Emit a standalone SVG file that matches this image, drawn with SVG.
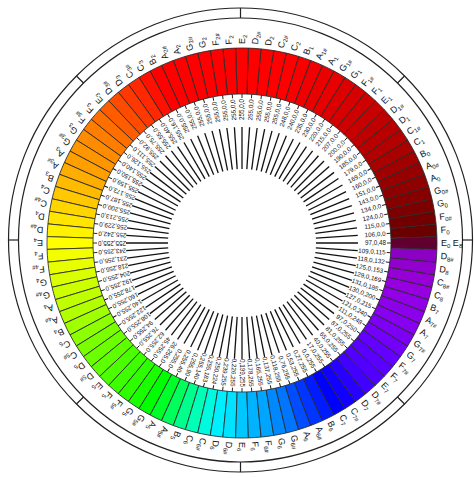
<svg xmlns="http://www.w3.org/2000/svg" xmlns:xlink="http://www.w3.org/1999/xlink" width="474" height="478" viewBox="0 0 474 478">
<style>
.w{stroke:#2a2a2a;stroke-width:0.8}
.sp{stroke:#111;stroke-width:1.3}
.dl{stroke:#111;stroke-width:0.9}
.v{font-family:"Liberation Sans",Arial,sans-serif;font-size:6.3px;text-anchor:end;fill:#111}
.n{font-family:"Liberation Sans",Arial,sans-serif;font-size:9px;fill:#111}
.s{font-size:6px}
.ring{fill:none;stroke:#222;stroke-width:1.2}
</style>
<defs>
<path id="w" class="w" d="M390.92,238.125 L436.896,236.62 A195,195 0 0 1 436.896,249.38 L390.92,247.875 A149,149 0 0 0 390.92,238.125Z"/>
<g id="t"><line class="sp" x1="316" y1="243" x2="358" y2="243"/><line class="dl" x1="387" y1="243" x2="391" y2="243"/></g>
<line id="tk" class="ring" x1="240.5" y1="8" x2="240.5" y2="18"/>
</defs>
<rect width="474" height="478" fill="#fff"/>
<g id="frame">
<circle class="ring" cx="240.5" cy="240" r="232"/>
<circle class="ring" cx="240.5" cy="240" r="222"/>
<use href="#tk"/>
<use href="#tk" transform="rotate(45 240.5 240)"/>
<use href="#tk" transform="rotate(90 240.5 240)"/>
<use href="#tk" transform="rotate(135 240.5 240)"/>
<use href="#tk" transform="rotate(180 240.5 240)"/>
<use href="#tk" transform="rotate(225 240.5 240)"/>
<use href="#tk" transform="rotate(270 240.5 240)"/>
<use href="#tk" transform="rotate(315 240.5 240)"/>
</g>
<g id="wheel">
<g transform="rotate(0 242 243)"><use href="#w" fill="rgb(97,0,48)"/><use href="#t"/><text class="v" x="386" y="245.2">97,0,48</text><text class="n" x="441" y="246">E<tspan class="s" dy="2">0</tspan><tspan dy="-2"> E</tspan><tspan class="s" dy="2">8</tspan></text></g>
<g transform="rotate(-3.75 242 243)"><use href="#w" fill="rgb(106,0,0)"/><use href="#t"/><text class="v" x="386" y="245.2">106,0,0</text><text class="n" x="441" y="246">F<tspan class="s" dy="2">0</tspan></text></g>
<g transform="rotate(-7.5 242 243)"><use href="#w" fill="rgb(115,0,0)"/><use href="#t"/><text class="v" x="386" y="245.2">115,0,0</text><text class="n" x="441" y="246">F<tspan class="s" dy="2">0#</tspan></text></g>
<g transform="rotate(-11.25 242 243)"><use href="#w" fill="rgb(124,0,0)"/><use href="#t"/><text class="v" x="386" y="245.2">124,0,0</text><text class="n" x="441" y="246">G<tspan class="s" dy="2">0</tspan></text></g>
<g transform="rotate(-15 242 243)"><use href="#w" fill="rgb(134,0,0)"/><use href="#t"/><text class="v" x="386" y="245.2">134,0,0</text><text class="n" x="441" y="246">G<tspan class="s" dy="2">0#</tspan></text></g>
<g transform="rotate(-18.75 242 243)"><use href="#w" fill="rgb(143,0,0)"/><use href="#t"/><text class="v" x="386" y="245.2">143,0,0</text><text class="n" x="441" y="246">A<tspan class="s" dy="2">0</tspan></text></g>
<g transform="rotate(-22.5 242 243)"><use href="#w" fill="rgb(151,0,0)"/><use href="#t"/><text class="v" x="386" y="245.2">151,0,0</text><text class="n" x="441" y="246">A<tspan class="s" dy="2">0#</tspan></text></g>
<g transform="rotate(-26.25 242 243)"><use href="#w" fill="rgb(160,0,0)"/><use href="#t"/><text class="v" x="386" y="245.2">160,0,0</text><text class="n" x="441" y="246">B<tspan class="s" dy="2">0</tspan></text></g>
<g transform="rotate(-30 242 243)"><use href="#w" fill="rgb(169,0,0)"/><use href="#t"/><text class="v" x="386" y="245.2">169,0,0</text><text class="n" x="441" y="246">C<tspan class="s" dy="2">1</tspan></text></g>
<g transform="rotate(-33.75 242 243)"><use href="#w" fill="rgb(179,0,0)"/><use href="#t"/><text class="v" x="386" y="245.2">179,0,0</text><text class="n" x="441" y="246">C<tspan class="s" dy="2">1#</tspan></text></g>
<g transform="rotate(-37.5 242 243)"><use href="#w" fill="rgb(185,0,0)"/><use href="#t"/><text class="v" x="386" y="245.2">185,0,0</text><text class="n" x="441" y="246">D<tspan class="s" dy="2">1</tspan></text></g>
<g transform="rotate(-41.25 242 243)"><use href="#w" fill="rgb(190,0,0)"/><use href="#t"/><text class="v" x="386" y="245.2">190,0,0</text><text class="n" x="441" y="246">D<tspan class="s" dy="2">1#</tspan></text></g>
<g transform="rotate(-45 242 243)"><use href="#w" fill="rgb(200,0,0)"/><use href="#t"/><text class="v" x="386" y="245.2">200,0,0</text><text class="n" x="441" y="246">E<tspan class="s" dy="2">1</tspan></text></g>
<g transform="rotate(-48.75 242 243)"><use href="#w" fill="rgb(207,0,0)"/><use href="#t"/><text class="v" x="386" y="245.2">207,0,0</text><text class="n" x="441" y="246">F<tspan class="s" dy="2">1</tspan></text></g>
<g transform="rotate(-52.5 242 243)"><use href="#w" fill="rgb(215,0,0)"/><use href="#t"/><text class="v" x="386" y="245.2">215,0,0</text><text class="n" x="441" y="246">F<tspan class="s" dy="2">1#</tspan></text></g>
<g transform="rotate(-56.25 242 243)"><use href="#w" fill="rgb(220,0,0)"/><use href="#t"/><text class="v" x="386" y="245.2">220,0,0</text><text class="n" x="441" y="246">G<tspan class="s" dy="2">1</tspan></text></g>
<g transform="rotate(-60 242 243)"><use href="#w" fill="rgb(230,0,0)"/><use href="#t"/><text class="v" x="386" y="245.2">230,0,0</text><text class="n" x="441" y="246">G<tspan class="s" dy="2">1#</tspan></text></g>
<g transform="rotate(-63.75 242 243)"><use href="#w" fill="rgb(235,0,0)"/><use href="#t"/><text class="v" x="386" y="245.2">235,0,0</text><text class="n" x="441" y="246">A<tspan class="s" dy="2">1</tspan></text></g>
<g transform="rotate(-67.5 242 243)"><use href="#w" fill="rgb(240,0,0)"/><use href="#t"/><text class="v" x="386" y="245.2">240,0,0</text><text class="n" x="441" y="246">A<tspan class="s" dy="2">1#</tspan></text></g>
<g transform="rotate(-71.25 242 243)"><use href="#w" fill="rgb(248,0,0)"/><use href="#t"/><text class="v" x="386" y="245.2">248,0,0</text><text class="n" x="441" y="246">B<tspan class="s" dy="2">1</tspan></text></g>
<g transform="rotate(-75 242 243)"><use href="#w" fill="rgb(255,0,0)"/><use href="#t"/><text class="v" x="386" y="245.2">255,0,0</text><text class="n" x="441" y="246">C<tspan class="s" dy="2">2</tspan></text></g>
<g transform="rotate(-78.75 242 243)"><use href="#w" fill="rgb(255,0,0)"/><use href="#t"/><text class="v" x="386" y="245.2">255,0,0</text><text class="n" x="441" y="246">C<tspan class="s" dy="2">2#</tspan></text></g>
<g transform="rotate(-82.5 242 243)"><use href="#w" fill="rgb(255,0,0)"/><use href="#t"/><text class="v" x="386" y="245.2">255,0,0</text><text class="n" x="441" y="246">D<tspan class="s" dy="2">2</tspan></text></g>
<g transform="rotate(-86.25 242 243)"><use href="#w" fill="rgb(255,0,0)"/><use href="#t"/><text class="v" x="386" y="245.2">255,0,0</text><text class="n" x="441" y="246">D<tspan class="s" dy="2">2#</tspan></text></g>
<g transform="rotate(-90 242 243)"><use href="#w" fill="rgb(255,0,0)"/><use href="#t"/><text class="v" x="386" y="245.2">255,0,0</text><text class="n" x="441" y="246">E<tspan class="s" dy="2">2</tspan></text></g>
<g transform="rotate(-93.75 242 243)"><use href="#w" fill="rgb(255,0,0)"/><use href="#t"/><text class="v" x="386" y="245.2">255,0,0</text><text class="n" x="441" y="246">F<tspan class="s" dy="2">2</tspan></text></g>
<g transform="rotate(-97.5 242 243)"><use href="#w" fill="rgb(255,0,0)"/><use href="#t"/><text class="v" x="386" y="245.2">255,0,0</text><text class="n" x="441" y="246">F<tspan class="s" dy="2">2#</tspan></text></g>
<g transform="rotate(-101.25 242 243)"><use href="#w" fill="rgb(255,0,0)"/><use href="#t"/><text class="v" x="386" y="245.2">255,0,0</text><text class="n" x="441" y="246">G<tspan class="s" dy="2">2</tspan></text></g>
<g transform="rotate(-105 242 243)"><use href="#w" fill="rgb(255,0,0)"/><use href="#t"/><text class="v" x="386" y="245.2">255,0,0</text><text class="n" x="441" y="246">G<tspan class="s" dy="2">2#</tspan></text></g>
<g transform="rotate(-108.75 242 243)"><use href="#w" fill="rgb(255,0,0)"/><use href="#t"/><text class="v" x="386" y="245.2">255,0,0</text><text class="n" x="441" y="246">A<tspan class="s" dy="2">2</tspan></text></g>
<g transform="rotate(-112.5 242 243)"><use href="#w" fill="rgb(255,0,0)"/><use href="#t"/><text class="v" x="386" y="245.2">255,0,0</text><text class="n" x="441" y="246">A<tspan class="s" dy="2">2#</tspan></text></g>
<g transform="rotate(-116.25 242 243)"><use href="#w" fill="rgb(255,0,0)"/><use href="#t"/><text class="v" x="386" y="245.2">255,0,0</text><text class="n" x="441" y="246">B<tspan class="s" dy="2">2</tspan></text></g>
<g transform="rotate(-120 242 243)"><use href="#w" fill="rgb(255,16,0)"/><use href="#t"/><text class="v" x="386" y="245.2">255,16,0</text><text class="n" x="441" y="246">C<tspan class="s" dy="2">3</tspan></text></g>
<g transform="rotate(-123.75 242 243)"><use href="#w" fill="rgb(255,40,0)"/><use href="#t"/><text class="v" x="386" y="245.2">255,40,0</text><text class="n" x="441" y="246">C<tspan class="s" dy="2">3#</tspan></text></g>
<g transform="rotate(-127.5 242 243)"><use href="#w" fill="rgb(255,55,0)"/><use href="#t"/><text class="v" x="386" y="245.2">255,55,0</text><text class="n" x="441" y="246">D<tspan class="s" dy="2">3</tspan></text></g>
<g transform="rotate(-131.25 242 243)"><use href="#w" fill="rgb(255,75,0)"/><use href="#t"/><text class="v" x="386" y="245.2">255,75,0</text><text class="n" x="441" y="246">D<tspan class="s" dy="2">3#</tspan></text></g>
<g transform="rotate(-135 242 243)"><use href="#w" fill="rgb(255,92,0)"/><use href="#t"/><text class="v" x="386" y="245.2">255,92,0</text><text class="n" x="441" y="246">E<tspan class="s" dy="2">3</tspan></text></g>
<g transform="rotate(-138.75 242 243)"><use href="#w" fill="rgb(255,111,0)"/><use href="#t"/><text class="v" x="386" y="245.2">255,111,0</text><text class="n" x="441" y="246">F<tspan class="s" dy="2">3</tspan></text></g>
<g transform="rotate(-142.5 242 243)"><use href="#w" fill="rgb(255,126,0)"/><use href="#t"/><text class="v" x="386" y="245.2">255,126,0</text><text class="n" x="441" y="246">F<tspan class="s" dy="2">3#</tspan></text></g>
<g transform="rotate(-146.25 242 243)"><use href="#w" fill="rgb(255,140,0)"/><use href="#t"/><text class="v" x="386" y="245.2">255,140,0</text><text class="n" x="441" y="246">G<tspan class="s" dy="2">3</tspan></text></g>
<g transform="rotate(-150 242 243)"><use href="#w" fill="rgb(255,150,0)"/><use href="#t"/><text class="v" x="386" y="245.2">255,150,0</text><text class="n" x="441" y="246">G<tspan class="s" dy="2">3#</tspan></text></g>
<g transform="rotate(-153.75 242 243)"><use href="#w" fill="rgb(255,159,0)"/><use href="#t"/><text class="v" x="386" y="245.2">255,159,0</text><text class="n" x="441" y="246">A<tspan class="s" dy="2">3</tspan></text></g>
<g transform="rotate(-157.5 242 243)"><use href="#w" fill="rgb(255,173,0)"/><use href="#t"/><text class="v" x="386" y="245.2">255,173,0</text><text class="n" x="441" y="246">A<tspan class="s" dy="2">3#</tspan></text></g>
<g transform="rotate(-161.25 242 243)"><use href="#w" fill="rgb(255,187,0)"/><use href="#t"/><text class="v" x="386" y="245.2">255,187,0</text><text class="n" x="441" y="246">B<tspan class="s" dy="2">3</tspan></text></g>
<g transform="rotate(-165 242 243)"><use href="#w" fill="rgb(255,200,0)"/><use href="#t"/><text class="v" x="386" y="245.2">255,200,0</text><text class="n" x="441" y="246">C<tspan class="s" dy="2">4</tspan></text></g>
<g transform="rotate(-168.75 242 243)"><use href="#w" fill="rgb(255,213,0)"/><use href="#t"/><text class="v" x="386" y="245.2">255,213,0</text><text class="n" x="441" y="246">C<tspan class="s" dy="2">4#</tspan></text></g>
<g transform="rotate(-172.5 242 243)"><use href="#w" fill="rgb(255,229,0)"/><use href="#t"/><text class="v" x="386" y="245.2">255,229,0</text><text class="n" x="441" y="246">D<tspan class="s" dy="2">4</tspan></text></g>
<g transform="rotate(-176.25 242 243)"><use href="#w" fill="rgb(255,242,0)"/><use href="#t"/><text class="v" x="386" y="245.2">255,242,0</text><text class="n" x="441" y="246">D<tspan class="s" dy="2">4#</tspan></text></g>
<g transform="rotate(-180 242 243)"><use href="#w" fill="rgb(255,255,0)"/><use href="#t"/><text class="v" x="386" y="245.2">255,255,0</text><text class="n" x="441" y="246">E<tspan class="s" dy="2">4</tspan></text></g>
<g transform="rotate(-183.75 242 243)"><use href="#w" fill="rgb(243,255,0)"/><use href="#t"/><text class="v" x="386" y="245.2">243,255,0</text><text class="n" x="441" y="246">F<tspan class="s" dy="2">4</tspan></text></g>
<g transform="rotate(-187.5 242 243)"><use href="#w" fill="rgb(231,255,0)"/><use href="#t"/><text class="v" x="386" y="245.2">231,255,0</text><text class="n" x="441" y="246">F<tspan class="s" dy="2">4#</tspan></text></g>
<g transform="rotate(-191.25 242 243)"><use href="#w" fill="rgb(218,255,0)"/><use href="#t"/><text class="v" x="386" y="245.2">218,255,0</text><text class="n" x="441" y="246">G<tspan class="s" dy="2">4</tspan></text></g>
<g transform="rotate(-195 242 243)"><use href="#w" fill="rgb(204,255,0)"/><use href="#t"/><text class="v" x="386" y="245.2">204,255,0</text><text class="n" x="441" y="246">G<tspan class="s" dy="2">4#</tspan></text></g>
<g transform="rotate(-198.75 242 243)"><use href="#w" fill="rgb(192,255,0)"/><use href="#t"/><text class="v" x="386" y="245.2">192,255,0</text><text class="n" x="441" y="246">A<tspan class="s" dy="2">4</tspan></text></g>
<g transform="rotate(-202.5 242 243)"><use href="#w" fill="rgb(178,255,0)"/><use href="#t"/><text class="v" x="386" y="245.2">178,255,0</text><text class="n" x="441" y="246">A<tspan class="s" dy="2">4#</tspan></text></g>
<g transform="rotate(-206.25 242 243)"><use href="#w" fill="rgb(160,255,0)"/><use href="#t"/><text class="v" x="386" y="245.2">160,255,0</text><text class="n" x="441" y="246">B<tspan class="s" dy="2">4</tspan></text></g>
<g transform="rotate(-210 242 243)"><use href="#w" fill="rgb(140,255,0)"/><use href="#t"/><text class="v" x="386" y="245.2">140,255,0</text><text class="n" x="441" y="246">C<tspan class="s" dy="2">5</tspan></text></g>
<g transform="rotate(-213.75 242 243)"><use href="#w" fill="rgb(122,255,0)"/><use href="#t"/><text class="v" x="386" y="245.2">122,255,0</text><text class="n" x="441" y="246">C<tspan class="s" dy="2">5#</tspan></text></g>
<g transform="rotate(-217.5 242 243)"><use href="#w" fill="rgb(108,255,0)"/><use href="#t"/><text class="v" x="386" y="245.2">108,255,0</text><text class="n" x="441" y="246">D<tspan class="s" dy="2">5</tspan></text></g>
<g transform="rotate(-221.25 242 243)"><use href="#w" fill="rgb(94,255,0)"/><use href="#t"/><text class="v" x="386" y="245.2">94,255,0</text><text class="n" x="441" y="246">D<tspan class="s" dy="2">5#</tspan></text></g>
<g transform="rotate(-225 242 243)"><use href="#w" fill="rgb(76,255,0)"/><use href="#t"/><text class="v" x="386" y="245.2">76,255,0</text><text class="n" x="441" y="246">E<tspan class="s" dy="2">5</tspan></text></g>
<g transform="rotate(-228.75 242 243)"><use href="#w" fill="rgb(62,255,0)"/><use href="#t"/><text class="v" x="386" y="245.2">62,255,0</text><text class="n" x="441" y="246">F<tspan class="s" dy="2">5</tspan></text></g>
<g transform="rotate(-232.5 242 243)"><use href="#w" fill="rgb(45,255,0)"/><use href="#t"/><text class="v" x="386" y="245.2">45,255,0</text><text class="n" x="441" y="246">F<tspan class="s" dy="2">5#</tspan></text></g>
<g transform="rotate(-236.25 242 243)"><use href="#w" fill="rgb(26,255,0)"/><use href="#t"/><text class="v" x="386" y="245.2">26,255,0</text><text class="n" x="441" y="246">G<tspan class="s" dy="2">5</tspan></text></g>
<g transform="rotate(-240 242 243)"><use href="#w" fill="rgb(0,255,0)"/><use href="#t"/><text class="v" x="386" y="245.2">0,255,0</text><text class="n" x="441" y="246">G<tspan class="s" dy="2">5#</tspan></text></g>
<g transform="rotate(-243.75 242 243)"><use href="#w" fill="rgb(0,255,40)"/><use href="#t"/><text class="v" x="386" y="245.2">0,255,40</text><text class="n" x="441" y="246">A<tspan class="s" dy="2">5</tspan></text></g>
<g transform="rotate(-247.5 242 243)"><use href="#w" fill="rgb(0,255,90)"/><use href="#t"/><text class="v" x="386" y="245.2">0,255,90</text><text class="n" x="441" y="246">A<tspan class="s" dy="2">5#</tspan></text></g>
<g transform="rotate(-251.25 242 243)"><use href="#w" fill="rgb(0,255,140)"/><use href="#t"/><text class="v" x="386" y="245.2">0,255,140</text><text class="n" x="441" y="246">B<tspan class="s" dy="2">5</tspan></text></g>
<g transform="rotate(-255 242 243)"><use href="#w" fill="rgb(0,255,183)"/><use href="#t"/><text class="v" x="386" y="245.2">0,255,183</text><text class="n" x="441" y="246">C<tspan class="s" dy="2">6</tspan></text></g>
<g transform="rotate(-258.75 242 243)"><use href="#w" fill="rgb(0,250,224)"/><use href="#t"/><text class="v" x="386" y="245.2">0,250,224</text><text class="n" x="441" y="246">C<tspan class="s" dy="2">6#</tspan></text></g>
<g transform="rotate(-262.5 242 243)"><use href="#w" fill="rgb(0,239,255)"/><use href="#t"/><text class="v" x="386" y="245.2">0,239,255</text><text class="n" x="441" y="246">D<tspan class="s" dy="2">6</tspan></text></g>
<g transform="rotate(-266.25 242 243)"><use href="#w" fill="rgb(0,226,255)"/><use href="#t"/><text class="v" x="386" y="245.2">0,226,255</text><text class="n" x="441" y="246">D<tspan class="s" dy="2">6#</tspan></text></g>
<g transform="rotate(-270 242 243)"><use href="#w" fill="rgb(0,199,255)"/><use href="#t"/><text class="v" x="386" y="245.2">0,199,255</text><text class="n" x="441" y="246">E<tspan class="s" dy="2">6</tspan></text></g>
<g transform="rotate(-273.75 242 243)"><use href="#w" fill="rgb(0,178,255)"/><use href="#t"/><text class="v" x="386" y="245.2">0,178,255</text><text class="n" x="441" y="246">F<tspan class="s" dy="2">6</tspan></text></g>
<g transform="rotate(-277.5 242 243)"><use href="#w" fill="rgb(0,165,255)"/><use href="#t"/><text class="v" x="386" y="245.2">0,165,255</text><text class="n" x="441" y="246">F<tspan class="s" dy="2">6#</tspan></text></g>
<g transform="rotate(-281.25 242 243)"><use href="#w" fill="rgb(0,137,255)"/><use href="#t"/><text class="v" x="386" y="245.2">0,137,255</text><text class="n" x="441" y="246">G<tspan class="s" dy="2">6</tspan></text></g>
<g transform="rotate(-285 242 243)"><use href="#w" fill="rgb(0,118,255)"/><use href="#t"/><text class="v" x="386" y="245.2">0,118,255</text><text class="n" x="441" y="246">G<tspan class="s" dy="2">6#</tspan></text></g>
<g transform="rotate(-288.75 242 243)"><use href="#w" fill="rgb(0,76,255)"/><use href="#t"/><text class="v" x="386" y="245.2">0,76,255</text><text class="n" x="441" y="246">A<tspan class="s" dy="2">6</tspan></text></g>
<g transform="rotate(-292.5 242 243)"><use href="#w" fill="rgb(0,53,255)"/><use href="#t"/><text class="v" x="386" y="245.2">0,53,255</text><text class="n" x="441" y="246">A<tspan class="s" dy="2">6#</tspan></text></g>
<g transform="rotate(-296.25 242 243)"><use href="#w" fill="rgb(0,27,255)"/><use href="#t"/><text class="v" x="386" y="245.2">0,27,255</text><text class="n" x="441" y="246">B<tspan class="s" dy="2">6</tspan></text></g>
<g transform="rotate(-300 242 243)"><use href="#w" fill="rgb(0,0,255)"/><use href="#t"/><text class="v" x="386" y="245.2">0,0,255</text><text class="n" x="441" y="246">C<tspan class="s" dy="2">7</tspan></text></g>
<g transform="rotate(-303.75 242 243)"><use href="#w" fill="rgb(17,0,255)"/><use href="#t"/><text class="v" x="386" y="245.2">17,0,255</text><text class="n" x="441" y="246">C<tspan class="s" dy="2">7#</tspan></text></g>
<g transform="rotate(-307.5 242 243)"><use href="#w" fill="rgb(40,0,255)"/><use href="#t"/><text class="v" x="386" y="245.2">40,0,255</text><text class="n" x="441" y="246">D<tspan class="s" dy="2">7</tspan></text></g>
<g transform="rotate(-311.25 242 243)"><use href="#w" fill="rgb(65,0,255)"/><use href="#t"/><text class="v" x="386" y="245.2">65,0,255</text><text class="n" x="441" y="246">D<tspan class="s" dy="2">7#</tspan></text></g>
<g transform="rotate(-315 242 243)"><use href="#w" fill="rgb(81,0,255)"/><use href="#t"/><text class="v" x="386" y="245.2">81,0,255</text><text class="n" x="441" y="246">E<tspan class="s" dy="2">7</tspan></text></g>
<g transform="rotate(-318.75 242 243)"><use href="#w" fill="rgb(90,0,255)"/><use href="#t"/><text class="v" x="386" y="245.2">87,0,255</text><text class="n" x="441" y="246">F<tspan class="s" dy="2">7</tspan></text></g>
<g transform="rotate(-322.5 242 243)"><use href="#w" fill="rgb(100,0,255)"/><use href="#t"/><text class="v" x="386" y="245.2">97,0,250</text><text class="n" x="441" y="246">F<tspan class="s" dy="2">7#</tspan></text></g>
<g transform="rotate(-326.25 242 243)"><use href="#w" fill="rgb(115,0,250)"/><use href="#t"/><text class="v" x="386" y="245.2">111,0,248</text><text class="n" x="441" y="246">G<tspan class="s" dy="2">7</tspan></text></g>
<g transform="rotate(-330 242 243)"><use href="#w" fill="rgb(125,0,245)"/><use href="#t"/><text class="v" x="386" y="245.2">121,0,240</text><text class="n" x="441" y="246">G<tspan class="s" dy="2">7#</tspan></text></g>
<g transform="rotate(-333.75 242 243)"><use href="#w" fill="rgb(135,0,240)"/><use href="#t"/><text class="v" x="386" y="245.2">127,0,215</text><text class="n" x="441" y="246">A<tspan class="s" dy="2">7</tspan></text></g>
<g transform="rotate(-337.5 242 243)"><use href="#w" fill="rgb(140,0,235)"/><use href="#t"/><text class="v" x="386" y="245.2">130,0,200</text><text class="n" x="441" y="246">A<tspan class="s" dy="2">7#</tspan></text></g>
<g transform="rotate(-341.25 242 243)"><use href="#w" fill="rgb(145,0,230)"/><use href="#t"/><text class="v" x="386" y="245.2">131,0,185</text><text class="n" x="441" y="246">B<tspan class="s" dy="2">7</tspan></text></g>
<g transform="rotate(-345 242 243)"><use href="#w" fill="rgb(150,0,225)"/><use href="#t"/><text class="v" x="386" y="245.2">129,0,169</text><text class="n" x="441" y="246">C<tspan class="s" dy="2">8</tspan></text></g>
<g transform="rotate(-348.75 242 243)"><use href="#w" fill="rgb(150,0,215)"/><use href="#t"/><text class="v" x="386" y="245.2">125,0,153</text><text class="n" x="441" y="246">C<tspan class="s" dy="2">8#</tspan></text></g>
<g transform="rotate(-352.5 242 243)"><use href="#w" fill="rgb(145,0,205)"/><use href="#t"/><text class="v" x="386" y="245.2">118,0,132</text><text class="n" x="441" y="246">D<tspan class="s" dy="2">8</tspan></text></g>
<g transform="rotate(-356.25 242 243)"><use href="#w" fill="rgb(140,0,195)"/><use href="#t"/><text class="v" x="386" y="245.2">109,0,115</text><text class="n" x="441" y="246">D<tspan class="s" dy="2">8#</tspan></text></g>
</g>
</svg>
